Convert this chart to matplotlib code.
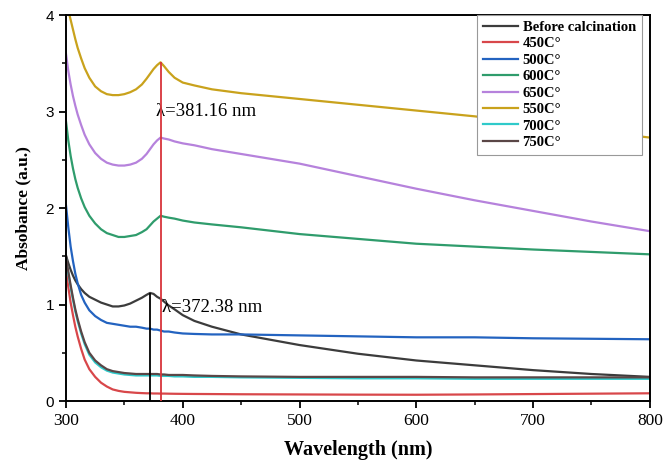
import numpy as np
import matplotlib
matplotlib.use('Agg')
import matplotlib.pyplot as plt

# --- Data ---
wavelength = [300, 302, 304, 306, 308, 310, 313, 316, 320, 325, 330, 335, 340, 345, 350, 355,
              360, 365, 369, 372, 375, 378, 381, 384, 388, 393, 400, 410, 425, 450,
              500, 550, 600, 650, 700, 750, 800]

before_calc = [1.51, 1.43, 1.36, 1.30, 1.25, 1.21, 1.16, 1.12, 1.08, 1.05, 1.02, 1.00, 0.98, 0.98,
               0.99, 1.01, 1.04, 1.07, 1.10, 1.12, 1.11, 1.08, 1.06, 1.03, 0.99, 0.95, 0.89,
               0.83, 0.77, 0.69, 0.58, 0.49, 0.42, 0.37, 0.32, 0.28, 0.25]
t450 = [1.36, 1.18, 1.02, 0.89, 0.77, 0.67, 0.54, 0.43, 0.33, 0.25, 0.19, 0.15, 0.12, 0.105,
        0.095, 0.09, 0.085, 0.082, 0.08, 0.08, 0.078, 0.078, 0.077, 0.077, 0.076, 0.075, 0.074,
        0.073, 0.072, 0.07, 0.068, 0.066, 0.065, 0.068, 0.072, 0.076, 0.08]
t500 = [2.03, 1.80, 1.60, 1.45, 1.32, 1.22, 1.10, 1.02, 0.94, 0.88, 0.84, 0.81, 0.80, 0.79,
        0.78, 0.77, 0.77, 0.76, 0.75, 0.75, 0.74, 0.74, 0.73, 0.72, 0.72, 0.71, 0.70,
        0.695, 0.69, 0.69, 0.68, 0.67, 0.66, 0.66, 0.65, 0.645, 0.64]
t600 = [2.90, 2.70, 2.54, 2.41, 2.30, 2.21, 2.10, 2.01, 1.92, 1.84, 1.78, 1.74, 1.72, 1.70,
        1.70, 1.71, 1.72, 1.75, 1.78, 1.82, 1.86, 1.89, 1.92, 1.91, 1.90, 1.89, 1.87,
        1.85, 1.83, 1.80, 1.73, 1.68, 1.63, 1.60, 1.57, 1.545, 1.52]
t650 = [3.60, 3.42, 3.28, 3.16, 3.06, 2.97, 2.86, 2.76, 2.66, 2.57, 2.51, 2.47, 2.45, 2.44,
        2.44, 2.45, 2.47, 2.51, 2.56, 2.61, 2.66, 2.70, 2.73, 2.72, 2.71, 2.69, 2.67,
        2.65, 2.61, 2.56, 2.46, 2.33, 2.20, 2.08, 1.97, 1.86, 1.76]
t550 = [4.15, 4.05, 3.95, 3.85, 3.75, 3.66, 3.55, 3.45, 3.35, 3.26, 3.21, 3.18, 3.17, 3.17,
        3.18, 3.20, 3.23, 3.28, 3.34, 3.39, 3.44, 3.48, 3.51, 3.47, 3.41, 3.35, 3.30,
        3.27, 3.23, 3.19, 3.13, 3.07, 3.01, 2.95, 2.88, 2.80, 2.73]
t700 = [1.48, 1.32, 1.18, 1.05, 0.93, 0.83, 0.70, 0.59, 0.48, 0.40, 0.35, 0.315, 0.295, 0.285,
        0.275, 0.27, 0.265, 0.265, 0.265, 0.265, 0.265, 0.265, 0.26, 0.26, 0.26, 0.255, 0.255,
        0.25, 0.25, 0.245, 0.24, 0.235, 0.235, 0.23, 0.23, 0.23, 0.23]
t750 = [1.50, 1.34, 1.20, 1.07, 0.95, 0.85, 0.72, 0.61, 0.50, 0.42, 0.37, 0.33, 0.31, 0.30,
        0.29, 0.285, 0.28, 0.28, 0.28, 0.28, 0.28, 0.28, 0.275, 0.275, 0.27, 0.27, 0.27,
        0.265, 0.26, 0.255, 0.25, 0.25, 0.25, 0.245, 0.245, 0.245, 0.245]

series_labels = ['Before calcination', '450C°', '500C°', '600C°', '650C°', '550C°', '700C°', '750C°']
series_values = [before_calc, t450, t500, t600, t650, t550, t700, t750]
series_colors = ['#3c3c3c', '#d8474a', '#2363c0', '#2f9c6c', '#b682dc', '#c9a21c', '#2fcaca', '#5a4646']

peak_550 = (381.16, 3.51)
peak_before = (372.38, 1.12)

# --- Figure ---
fig = plt.figure(figsize=(6.65, 4.62), dpi=100)
ax = fig.add_axes([0.0992, 0.132, 0.878, 0.8355])

for vals, lab, col in zip(series_values, series_labels, series_colors):
    ax.plot(wavelength, vals, color=col, lw=1.6, label=lab)

ax.vlines(peak_550[0], 0, peak_550[1], color='#d8343a', lw=1.3, zorder=5)
ax.vlines(peak_before[0], 0, peak_before[1], color='black', lw=1.3, zorder=5)

ax.text(377.5, 3.0, 'λ=381.16 nm', fontsize=13.5, family='Liberation Serif',
        va='center', ha='left')
ax.text(382.5, 0.97, 'λ=372.38 nm', fontsize=13.5, family='Liberation Serif',
        va='center', ha='left')

ax.set_xlim(300, 800)
ax.set_ylim(0, 4)
ax.set_xticks([300, 400, 500, 600, 700, 800])
ax.set_xticks([350, 450, 550, 650, 750], minor=True)
ax.set_yticks([0, 1, 2, 3, 4])
ax.set_yticks([0.5, 1.5, 2.5, 3.5], minor=True)
ax.tick_params(which='major', direction='out', length=5, width=1.3)
ax.tick_params(which='minor', direction='out', length=3, width=1.1)
for lbl in ax.get_xticklabels():
    lbl.set_family('Liberation Serif')
    lbl.set_fontsize(12.5)
for lbl in ax.get_yticklabels():
    lbl.set_family('Liberation Sans')
    lbl.set_fontsize(11)
for sp in ax.spines.values():
    sp.set_linewidth(1.4)

ax.set_xlabel('Wavelength (nm)', fontsize=14.5, fontweight='bold',
              family='Liberation Serif', labelpad=8)
ax.set_ylabel('Absobance (a.u.)', fontsize=12.5, fontweight='bold',
              family='Liberation Serif', labelpad=10)

leg = ax.legend(loc='upper right', bbox_to_anchor=(0.986, 1.0), borderaxespad=0,
                frameon=True, fancybox=False, framealpha=1.0,
                prop={'family': 'Liberation Serif', 'weight': 'bold', 'size': 10.5},
                handlelength=2.4, handletextpad=0.3, labelspacing=0.22, borderpad=0.4)
leg.get_frame().set_edgecolor('#999999')
leg.get_frame().set_linewidth(0.8)

plt.savefig('out.png', dpi=100)
